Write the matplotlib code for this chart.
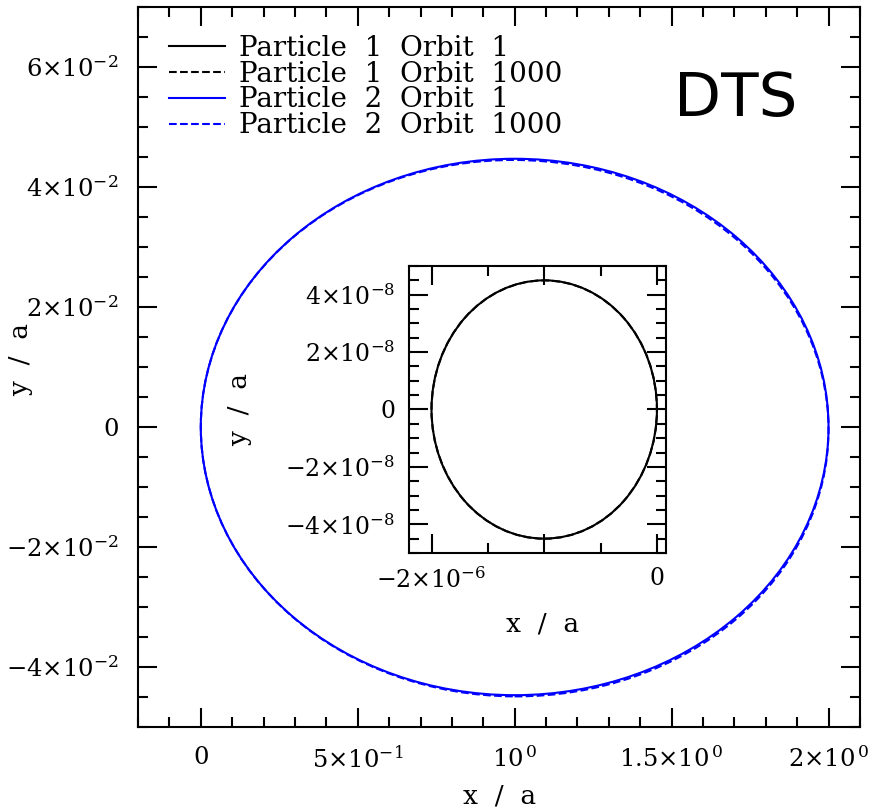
import matplotlib
matplotlib.use("Agg")
import matplotlib.pyplot as plt
from matplotlib.patches import Ellipse
from matplotlib.lines import Line2D
from matplotlib.ticker import MultipleLocator

plt.rcParams["font.family"] = "DejaVu Serif"
plt.rcParams["mathtext.fontset"] = "dejavuserif"

# orbits: centre x, centre y, full width, full height, tilt (deg)
labels = ["Particle  1  Orbit  1", "Particle  1  Orbit  1000",
          "Particle  2  Orbit  1", "Particle  2  Orbit  1000"]
colors = ["black", "black", "blue", "blue"]
styles = ["-", "--", "-", "--"]
cx = [-1.0e-6, -1.0e-6, 1.0, 1.0]
cy = [0.0, 0.0, 0.0, -0.0002]
width = [2.0e-6, 2.0e-6, 2.0, 2.0]
height = [9.0e-8, 9.0e-8, 0.0894, 0.0894]
tilt = [0.0, 0.0, 0.0, -0.012]

xticks = [0, 0.5, 1.0, 1.5, 2.0]
xticklabels = ["0", r"$5{\times}10^{-1}$", r"$10^{\,0}$",
               r"$1.5{\times}10^{\,0}$", r"$2{\times}10^{\,0}$"]
yticks = [-0.04, -0.02, 0, 0.02, 0.04, 0.06]
yticklabels = [r"$-4{\times}10^{-2}$", r"$-2{\times}10^{-2}$", "0",
               r"$2{\times}10^{-2}$", r"$4{\times}10^{-2}$", r"$6{\times}10^{-2}$"]
in_xticks = [-2e-6, -1e-6, 0]
in_xticklabels = [r"$-2{\times}10^{-6}$", "", "0"]
in_yticks = [-4e-8, -2e-8, 0, 2e-8, 4e-8]
in_yticklabels = [r"$-4{\times}10^{-8}$", r"$-2{\times}10^{-8}$", "0",
                  r"$2{\times}10^{-8}$", r"$4{\times}10^{-8}$"]


def style_axes(ax, fs, pad, major_len, minor_len):
    for s in ax.spines.values():
        s.set_linewidth(1.5)
    ax.tick_params(which="both", direction="in", top=True, right=True,
                   width=1.5, labelsize=fs, pad=pad)
    ax.tick_params(which="major", length=major_len)
    ax.tick_params(which="minor", length=minor_len)


fig = plt.figure(figsize=(8.78, 8.10), dpi=100)
ax = fig.add_axes([0.1572, 0.1025, 0.8222, 0.8889])

for i in range(4):
    ax.add_patch(Ellipse((cx[i], cy[i]), width[i], height[i], angle=tilt[i],
                         fill=False, edgecolor=colors[i], linestyle=styles[i],
                         linewidth=1.5))
ax.set_xlim(-0.2, 2.1)
ax.set_ylim(-0.05, 0.07)
ax.set_xticks(xticks)
ax.set_xticklabels(xticklabels)
ax.set_yticks(yticks)
ax.set_yticklabels(yticklabels)
ax.xaxis.set_minor_locator(MultipleLocator(0.1))
ax.yaxis.set_minor_locator(MultipleLocator(0.005))
style_axes(ax, 17.5, 14, 14, 7)
ax.set_xlabel("x  /  a", fontsize=19)
ax.set_ylabel("y  /  a", fontsize=19)
ax.xaxis.set_label_coords(0.501, -0.078)
ax.yaxis.set_label_coords(-0.145, 0.51)

handles = [Line2D([], [], color=colors[i], linestyle=styles[i], linewidth=1.5)
           for i in range(4)]
ax.legend(handles, labels, loc="upper left", frameon=False, fontsize=20,
          handlelength=2.0, handletextpad=0.5, labelspacing=-0.04,
          borderaxespad=0.0, bbox_to_anchor=(0.028, 0.977))

ax.text(0.914, 0.872, "DTS", transform=ax.transAxes, fontsize=44,
        family="DejaVu Sans", ha="right", va="center")

# inset: particle 1 close-up
axin = fig.add_axes([0.4658, 0.3173, 0.2927, 0.3543])
for i in range(2):
    axin.add_patch(Ellipse((cx[i], cy[i]), width[i], height[i], angle=tilt[i],
                           fill=False, edgecolor=colors[i], linestyle=styles[i],
                           linewidth=1.5))
axin.set_xlim(-2.2e-6, 0.08e-6)
axin.set_ylim(-5e-8, 5e-8)
axin.set_xticks(in_xticks)
axin.set_xticklabels(in_xticklabels)
axin.set_yticks(in_yticks)
axin.set_yticklabels(in_yticklabels)
axin.xaxis.set_minor_locator(MultipleLocator(0.5e-6))
axin.yaxis.set_minor_locator(MultipleLocator(0.5e-8))
style_axes(axin, 17, 10, 14, 7)
axin.set_xlabel("x  /  a", fontsize=19)
axin.set_ylabel("y  /  a", fontsize=19)
axin.xaxis.set_label_coords(0.52, -0.205)
axin.yaxis.set_label_coords(-0.61, 0.50)

fig.savefig("out.png", dpi=100)
